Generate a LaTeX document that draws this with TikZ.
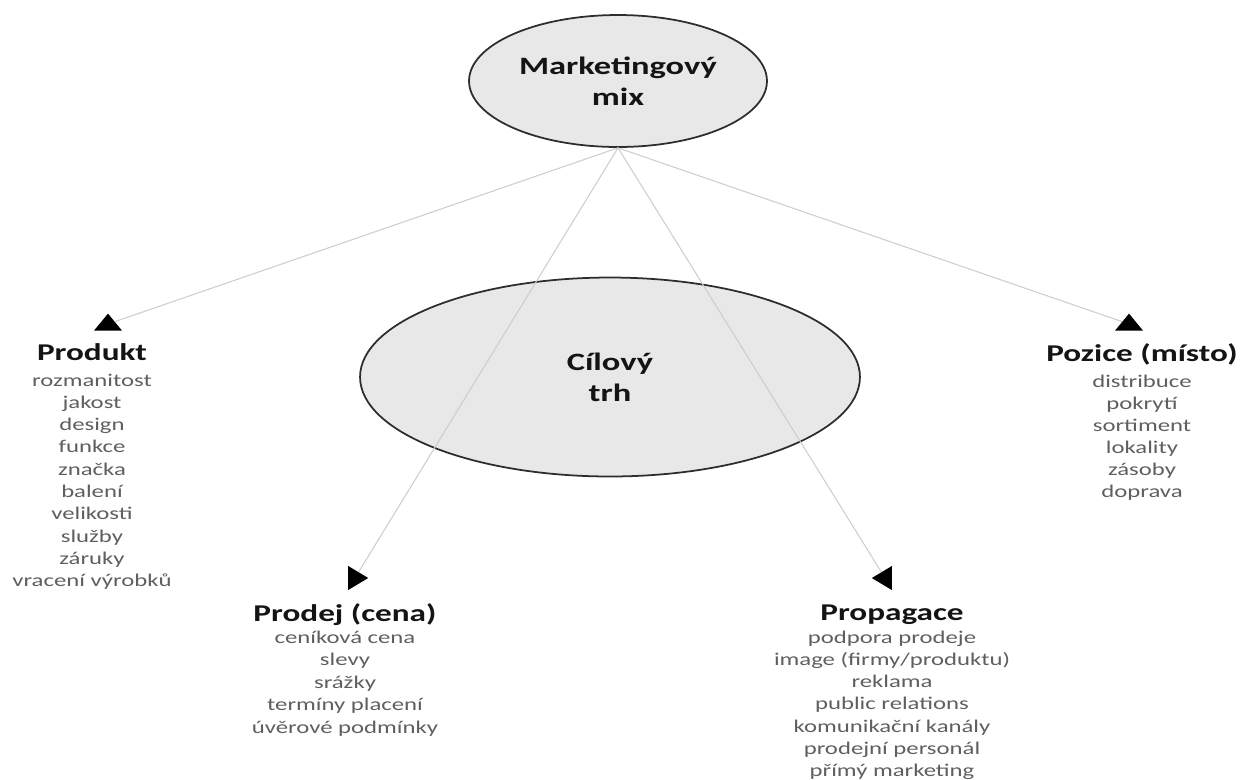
\documentclass[tikz,border=0pt]{standalone}
\usepackage{fontspec}
\setmainfont[FakeStretch=1.38]{Carlito}
\usetikzlibrary{shapes.geometric,positioning}
\definecolor{shell}{RGB}{232,232,232}
\definecolor{rim}{RGB}{45,45,45}
\definecolor{wire}{RGB}{205,205,205}
\definecolor{ink}{RGB}{20,20,20}
\definecolor{muted}{RGB}{95,95,95}
\tikzset{
  hub/.style={ellipse,draw=rim,fill=shell,line width=1pt,inner sep=0pt,align=center,
    font=\fontsize{14.2}{17.6}\selectfont\bfseries,text=ink},
  tip/.style n args={3}{isosceles triangle,isosceles triangle stretches,fill=black,
    inner sep=0pt,shape border rotate=#1,minimum width=#2,minimum height=#3},
  link/.style={draw=wire,line width=0.6pt},
  head/.style={font=\fontsize{13.7}{16}\selectfont\bfseries,text=ink,anchor=base,inner sep=0pt},
  item/.style={font=\fontsize{10.2}{12.7}\selectfont,text=muted,anchor=base,inner sep=0pt},
}
\begin{document}
\begin{tikzpicture}[x=0.02cm,y=-0.02cm]
  \useasboundingbox (0,0) rectangle (1244,779);
  % ellipses
  \node[hub,minimum width=5.96cm,minimum height=2.64cm] (mix) at (618,81) {Marketingový\\mix};
  \node[hub,minimum width=10cm,minimum height=3.98cm] (trh) at (610,377) {Cílový\\trh};
  % arrow heads
  \foreach \t/\r/\w/\h/\x/\y in {tprod/90/0.56cm/0.34cm/108/324,tpoz/90/0.56cm/0.34cm/1129/324,
      tcena/0/0.48cm/0.40cm/355/578,tprop/180/0.48cm/0.40cm/885/578}
    \node[tip={\r}{\w}{\h}] (\t) at (\x,\y) {};
  \foreach \t in {tprod,tcena,tprop,tpoz}
    \draw[link] (mix.south) -- (\t);
  % titles
  \node[head] (prod) at (92,360) {Produkt};
  \node[head] (poz) at (1142,361) {Pozice (místo)};
  \node[head] (cena) at (345,621) {Prodej (cena)};
  \node[head] (prop) at (892,620) {Propagace};
  % lists
  \foreach [count=\i] \w in {rozmanitost,jakost,design,funkce,značka,balení,velikosti,služby,záruky,vracení výrobků}
    \node[item] (prod\i) at (92,{386+22.3*(\i-1)}) {\w};
  \foreach [count=\i] \w in {distribuce,pokrytí,sortiment,lokality,zásoby,doprava}
    \node[item] (poz\i) at (1142,{387+22*(\i-1)}) {\w};
  \foreach [count=\i] \w in {ceníková cena,slevy,srážky,termíny placení,úvěrové podmínky}
    \node[item] (cena\i) at (345,{643+22.5*(\i-1)}) {\w};
  \foreach [count=\i] \w in {podpora prodeje,image (firmy/produktu),reklama,public relations,komunikační kanály,prodejní personál,přímý marketing}
    \node[item] (prop\i) at (892,{643+22.3*(\i-1)}) {\w};
\end{tikzpicture}
\end{document}
